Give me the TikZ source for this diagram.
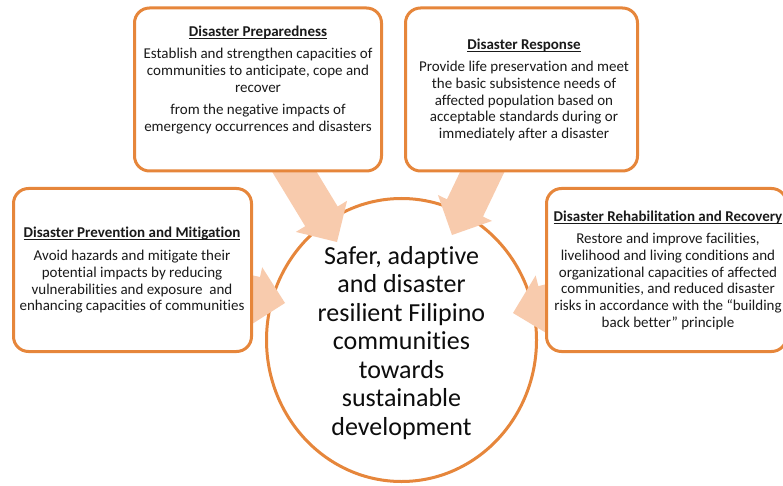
\documentclass[tikz,border=0pt]{standalone}
\usepackage{fontspec}
\setmainfont{Carlito}[Ligatures={TeX,NoCommon}]
\usetikzlibrary{calc,shapes.geometric}
\definecolor{boxorange}{HTML}{E6863B}
\definecolor{peach}{HTML}{F8CBAD}
\definecolor{txt}{HTML}{1A1A1A}
\newcommand\mytitle[1]{\setbox0\hbox{\textbf{#1}}\rlap{\rule[-2.6pt]{\wd0}{0.9pt}}\box0}
\tikzset{
  card/.style={draw=boxorange, line width=3pt, rounded corners=15pt, fill=white,
    minimum width=#1, minimum height=163pt, inner sep=0pt},
  cardtext/.style={anchor=north, inner sep=0pt, align=center, text=txt,
    font=\fontsize{15}{16.8}\selectfont},
  goal/.style={ellipse, draw=boxorange, line width=3pt, fill=white,
    minimum width=270pt, minimum height=283pt, inner sep=0pt, align=center,
    text=black!95, font=\fontsize{26}{28.5}\selectfont},
  blockarrow/.style={fill=peach, draw=none}
}
% tail, tip, body half width, head half width, head length
\newcommand\blockarr[5]{%
  \coordinate (hd) at ($(#2)!#5!(#1)$);
  \path[blockarrow] ($(#1)!#3!90:(#2)$) -- ($(hd)!#3!-90:(#1)$)
    -- ($(hd)!#4!-90:(#1)$) -- (#2) -- ($(hd)!#4!90:(#1)$)
    -- ($(hd)!#3!90:(#1)$) -- ($(#1)!#3!-90:(#2)$) -- cycle;
}
\begin{document}
\begin{tikzpicture}[x=1pt,y=-1pt]
\useasboundingbox (0,0) rectangle (783,486);
\clip (0,0) rectangle (783,486);

% central goal
\node[goal] (goal) at (401.5,340) {};
\node[align=center, inner sep=0pt, text=black!95, font=\fontsize{26}{28.5}\selectfont] (goaltext) at (401.5,343) {Safer, adaptive\\and disaster\\resilient Filipino\\communities\\towards\\sustainable\\development};

% arrow end points
\coordinate (tlTail) at (272,135);  \coordinate (tlTip) at (337,242);
\coordinate (trTail) at (499,137);  \coordinate (trTip) at (452,235);
\coordinate (lTail) at (199,284);   \coordinate (lTip) at (285,303);
\coordinate (rTail) at (610,289);   \coordinate (rTip) at (513,313);
\blockarr{tlTail}{tlTip}{19pt}{30pt}{30pt}
\blockarr{trTail}{trTip}{20pt}{30pt}{30pt}
\blockarr{lTail}{lTip}{20pt}{30pt}{30pt}
\blockarr{rTail}{rTip}{20pt}{31pt}{31pt}

% boxes
\node[card=247pt] (prep) at (258,89.5) {};
\node[card=232pt] (resp) at (521.5,89.5) {};
\node[card=238pt] (prev) at (132.5,270) {};
\node[card=240pt] (rehab) at (666.5,270) {};

% texts
\node[cardtext] (preptext) at (258,26) {\mytitle{Disaster Preparedness}\\[5pt]Establish and strengthen capacities of\\communities to anticipate, cope and\\recover\\[5.5pt]from the negative impacts of\\emergency occurrences and disasters};
\node[cardtext] (resptext) at (524,39) {\mytitle{Disaster Response}\\[5pt]Provide life preservation and meet\\the basic subsistence needs of\\affected population based on\\acceptable standards during or\\immediately after a disaster};
\node[cardtext] (prevtext) at (132,227) {\mytitle{Disaster Prevention and Mitigation}\\[6pt]Avoid hazards and mitigate their\\potential impacts by reducing\\vulnerabilities and exposure \ and\\enhancing capacities of communities};
\node[cardtext] (rehabtext) at (668,211) {\mytitle{Disaster Rehabilitation and Recovery}\\[5pt]Restore and improve facilities,\\livelihood and living conditions and\\organizational capacities of affected\\communities, and reduced disaster\\risks in accordance with the “building\\back better” principle};
\end{tikzpicture}
\end{document}
